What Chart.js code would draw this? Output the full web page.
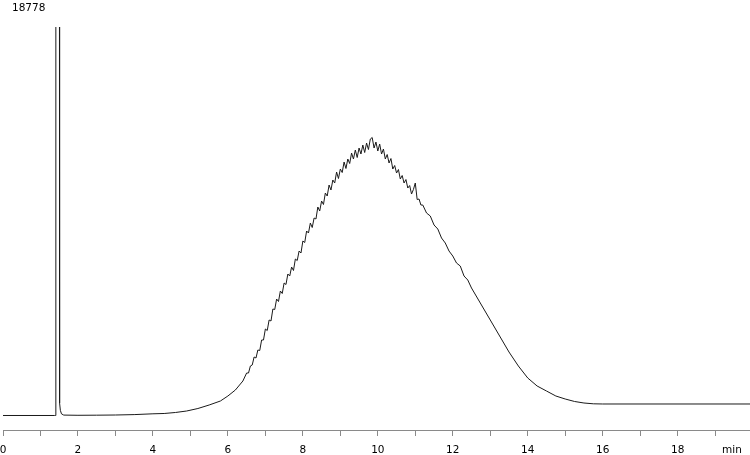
<!DOCTYPE html>
<html>
<head>
<meta charset="utf-8">
<script src="https://cdn.jsdelivr.net/npm/chart.js@4"></script>
<style>
  html, body { margin: 0; padding: 0; background: #fff; }
  #wrap { width: 750px; height: 455px; }
</style>
</head>
<body>
<div id="wrap"><canvas id="chrom"></canvas></div>
<script>
// Chromatogram data (time in min, signal in counts)
const times = [
  0, 1.38, 1.405, 1.41, 1.505, 1.51, 1.53, 1.56, 1.62, 2.0,
  2.5, 3.0, 3.5, 4.0, 4.3, 4.6, 4.9, 5.2, 5.5, 5.8,
  6.0, 6.2, 6.4,
  6.5, 6.55, 6.6, 6.65, 6.7, 6.75, 6.8, 6.85, 6.9, 6.95,
  7.0, 7.05, 7.1, 7.15, 7.2, 7.25, 7.3, 7.35, 7.4, 7.45,
  7.5, 7.55, 7.6, 7.65, 7.7, 7.75, 7.8, 7.85, 7.9, 7.95,
  8.0, 8.05, 8.1, 8.15, 8.2, 8.25, 8.3, 8.35, 8.4, 8.45,
  8.5, 8.55, 8.6, 8.65, 8.7, 8.75, 8.8, 8.85, 8.9, 8.95,
  9.0, 9.05, 9.1, 9.15, 9.2, 9.25, 9.3, 9.35, 9.4, 9.45,
  9.5, 9.55, 9.6, 9.65, 9.7, 9.75, 9.8, 9.85, 9.9, 9.95,
  10.0, 10.05, 10.1, 10.15, 10.2, 10.25, 10.3, 10.35, 10.4, 10.45,
  10.5, 10.55, 10.6, 10.65, 10.7, 10.75, 10.8, 10.85, 10.9, 10.95,
  11.0, 11.05, 11.1, 11.15, 11.2,
  11.3, 11.4, 11.5, 11.6, 11.7, 11.8, 11.9, 12.0,
  12.1, 12.2, 12.3, 12.4, 12.5,
  12.75, 13.0, 13.25, 13.5, 13.75, 14.0, 14.25, 14.5, 14.75, 15.0,
  15.25, 15.5, 15.75, 16.0,
  19.93
];
const signal = [
  0, 0, 0, 30000, 30000, 600, 250, 80, 20, 10,
  15, 24, 43, 82, 97, 145, 217, 338, 507, 700,
  942, 1232, 1667,
  2054, 2054, 2392, 2441, 2827, 2779, 3166, 3141, 3649, 3649,
  4181, 4108, 4616, 4567, 5147, 5123, 5630, 5510, 6017, 5896,
  6404, 6331, 6839, 6742, 7177, 7008, 7564, 7491, 7950, 7854,
  8434, 8361, 8917, 8820, 9304, 9086, 9545, 9497, 10077, 9883,
  10367, 10198, 10753, 10608, 11140, 10898, 11382, 11237, 11768, 11454,
  11913, 11744, 12252, 11938, 12397, 12179, 12687, 12397, 12832, 12469,
  12928, 12638, 13073, 12711, 13170, 12856, 13363, 13436, 12928, 13218,
  12783, 13122, 12638, 12880, 12397, 12614, 12203, 12421, 11913, 12083,
  11720, 11889, 11430, 11599, 11237, 11406, 10995, 11116, 10705, 10923,
  11237, 10439, 10463, 10173, 10173,
  9787, 9642, 9207, 9014, 8579, 8337, 7950, 7709,
  7370, 7225, 6742, 6549, 6162,
  5389, 4616, 3842, 3069, 2392, 1812, 1426, 1184, 942, 797,
  677, 604, 565, 556,
  556
];

const xMin = 0;
const xMax = 19.93;
const yMin = -701;
const yMax = 18778;
const majorStep = 2;
const unitLabel = "min";
const unitPos = 19.45;

const fontFamily = "'DejaVu Sans', sans-serif";

const points = times.map((t, i) => ({ x: t, y: signal[i] }));

// draws the full-scale value in the top left corner
const maxLabelPlugin = {
  id: "maxLabel",
  afterDraw(chart) {
    const ctx = chart.ctx;
    ctx.save();
    ctx.font = "10.5px " + fontFamily;
    ctx.fillStyle = "#000";
    ctx.textAlign = "left";
    ctx.textBaseline = "alphabetic";
    ctx.fillText(String(yMax), 12, 11);
    ctx.restore();
  },
};

new Chart(document.getElementById("chrom"), {
  type: "line",
  data: {
    datasets: [
      {
        data: points,
        borderColor: "#1a1a1a",
        borderWidth: 1,
        pointRadius: 0,
        tension: 0,
        fill: false,
      },
    ],
  },
  options: {
    responsive: true,
    maintainAspectRatio: false,
    animation: false,
    layout: { padding: { left: 3, right: 0, top: 27, bottom: 0 } },
    plugins: {
      legend: { display: false },
      tooltip: { enabled: false },
    },
    scales: {
      x: {
        type: "linear",
        min: xMin,
        max: xMax,
        afterBuildTicks(scale) {
          const ticks = [];
          for (let v = 0; v <= 19; v++) ticks.push({ value: v });
          ticks.push({ value: unitPos });
          scale.ticks = ticks;
        },
        afterFit(scale) {
          scale.paddingLeft = 0;
          scale.paddingRight = 0;
          scale.height = 25;
        },
        ticks: {
          autoSkip: false,
          maxRotation: 0,
          padding: 7.5,
          color: "#000",
          font: { family: fontFamily, size: 10.5 },
          callback(value) {
            if (value === unitPos) return unitLabel;
            return value % majorStep === 0 ? String(value) : "";
          },
        },
        grid: {
          drawOnChartArea: false,
          drawTicks: true,
          tickLength: 6,
          tickColor(ctx) {
            return ctx.tick && ctx.tick.value === unitPos ? "rgba(0,0,0,0)" : "#8a8a8a";
          },
        },
        border: { display: true, color: "#8a8a8a", width: 1 },
      },
      y: {
        display: false,
        min: yMin,
        max: yMax,
      },
    },
  },
  plugins: [maxLabelPlugin],
});
</script>
</body>
</html>
